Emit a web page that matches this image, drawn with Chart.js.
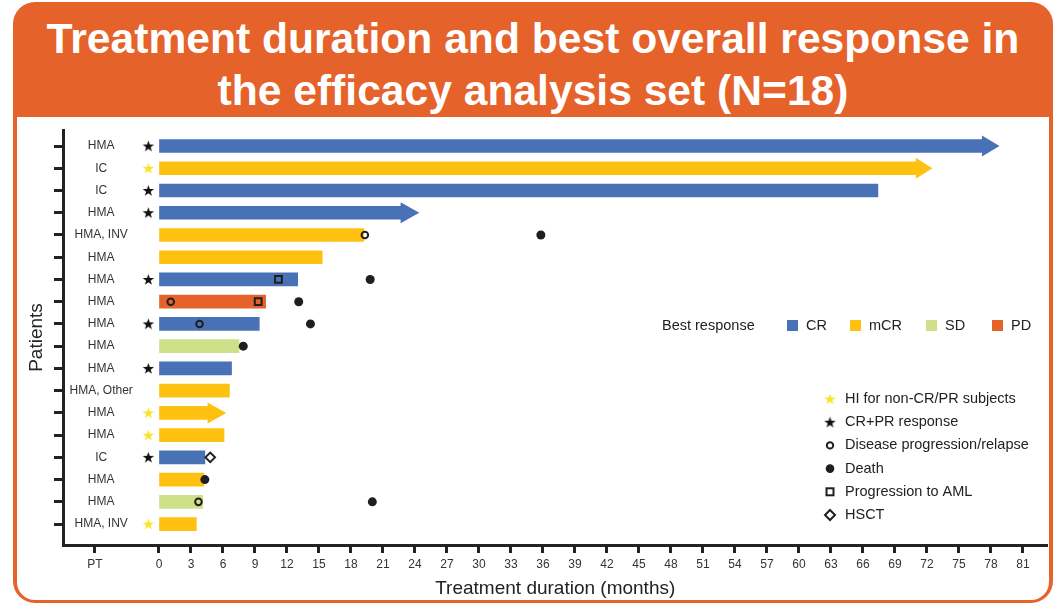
<!DOCTYPE html>
<html>
<head>
<meta charset="utf-8">
<script src="https://cdn.jsdelivr.net/npm/chart.js@4/dist/chart.umd.min.js"></script>
<style>
  html, body { margin: 0; padding: 0; background: #fff; }
  body { width: 1058px; height: 605px; position: relative; overflow: hidden;
         font-family: "Liberation Sans", Arial, sans-serif; }
  #frame { position: absolute; left: 13px; top: 2px; width: 1040px; height: 601px;
           background: #E5622A; border-radius: 22px; }
  #panel { position: absolute; left: 17px; top: 117px; width: 1032px; height: 483px;
           background: #fff; border-radius: 0 0 18px 18px; }
  #title { position: absolute; left: 13px; top: 12px; width: 1040px; text-align: center;
           color: #fff; font-weight: bold; font-size: 42.6px; line-height: 52px; }
  #chart { position: absolute; left: 0; top: 0; }
</style>
</head>
<body>
<div id="frame"></div>
<div id="panel"></div>
<div id="title">Treatment duration and best overall response in<br>the efficacy analysis set (N=18)</div>
<canvas id="chart" width="1058" height="605"></canvas>
<script>
// ---- data: one entry per patient, top row first ----
const patients = ['HMA', 'IC', 'IC', 'HMA', 'HMA, INV', 'HMA', 'HMA', 'HMA', 'HMA',
                  'HMA', 'HMA', 'HMA, Other', 'HMA', 'HMA', 'IC', 'HMA', 'HMA', 'HMA, INV'];
const bestResponse = ['CR', 'mCR', 'CR', 'CR', 'mCR', 'mCR', 'CR', 'PD', 'CR',
                      'SD', 'CR', 'mCR', 'mCR', 'mCR', 'CR', 'mCR', 'SD', 'mCR'];
// treatment duration in months (end of the bar body)
const durationMonths = [77.2, 71.0, 67.4, 22.7, 19.2, 15.3, 13.0, 10.0, 9.4,
                        7.5, 6.8, 6.6, 4.6, 6.1, 4.3, 4.2, 4.1, 3.5];
// patients still on treatment: month reached by the arrow tip
const ongoingArrowTip = [78.8, 72.5, null, 24.4, null, null, null, null, null,
                         null, null, null, 6.3, null, null, null, null, null];

// response markers shown in the "PT" column
const responseMarkerMonth = -1;
const crPrRows = [0, 2, 3, 6, 8, 10, 14];
const hiRows = [1, 12, 13, 17];

// events along the timeline
const progressionRows = [4, 7, 8, 16];
const progressionMonths = [19.3, 1.1, 3.8, 3.7];
const deathRows = [4, 6, 7, 8, 9, 15, 16];
const deathMonths = [35.8, 19.8, 13.1, 14.2, 7.9, 4.3, 20.0];
const amlRows = [6, 7];
const amlMonths = [11.2, 9.3];
const hsctRows = [14];
const hsctMonths = [4.8];

// x axis ticks
const ptMonth = -6;
const xTickValues = [-6, 0, 3, 6, 9, 12, 15, 18, 21, 24, 27, 30, 33, 36, 39, 42, 45,
                     48, 51, 54, 57, 60, 63, 66, 69, 72, 75, 78, 81];

const responseColors = { CR: '#4871B6', mCR: '#FFC10F', SD: '#CFE08A', PD: '#E5622A' };
const responseOrder = ['CR', 'mCR', 'SD', 'PD'];
const INK = '#1f1f1f';
const FONT = '"Liberation Sans", Arial, sans-serif';

// filled five-point star used as a point style
function starImage(color) {
  const c = document.createElement('canvas');
  c.width = 13; c.height = 13;
  const g = c.getContext('2d');
  g.fillStyle = color;
  g.beginPath();
  for (let k = 0; k < 10; k++) {
    const r = k % 2 ? 2.4 : 6;
    const a = -Math.PI / 2 + k * Math.PI / 5;
    g.lineTo(6.5 + r * Math.cos(a), 6.9 + r * Math.sin(a));
  }
  g.closePath();
  g.fill();
  return c;
}
const starBlack = starImage('#111');
const starYellow = starImage('#F8E42A');

const pts = (rows, months) => rows.map((r, i) => ({ x: months[i], y: r }));

function drawMarker(ctx, kind, x, y) {
  ctx.save();
  ctx.strokeStyle = INK; ctx.fillStyle = INK; ctx.lineWidth = 2;
  if (kind === 'hi') ctx.drawImage(starYellow, x - 6.5, y - 6.5);
  else if (kind === 'crpr') ctx.drawImage(starBlack, x - 6.5, y - 6.5);
  else if (kind === 'prog') { ctx.beginPath(); ctx.arc(x, y, 3.2, 0, Math.PI * 2); ctx.stroke(); }
  else if (kind === 'death') { ctx.beginPath(); ctx.arc(x, y, 4.3, 0, Math.PI * 2); ctx.fill(); }
  else if (kind === 'aml') { ctx.strokeRect(x - 3.5, y - 3.5, 7, 7); }
  else if (kind === 'hsct') {
    ctx.beginPath(); ctx.moveTo(x, y - 5); ctx.lineTo(x + 5, y); ctx.lineTo(x, y + 5);
    ctx.lineTo(x - 5, y); ctx.closePath(); ctx.stroke();
  }
  ctx.restore();
}

const markerLegend = [
  ['hi', 'HI for non-CR/PR subjects'],
  ['crpr', 'CR+PR response'],
  ['prog', 'Disease progression/relapse'],
  ['death', 'Death'],
  ['aml', 'Progression to AML'],
  ['hsct', 'HSCT']
];

const overlay = {
  id: 'overlay',
  afterDatasetDraw(chart, args) {
    if (args.index !== 0) return;
    const ctx = chart.ctx, xs = chart.scales.x;
    args.meta.data.forEach((bar, i) => {
      const tip = ongoingArrowTip[i];
      if (tip == null) return;
      const tx = xs.getPixelForValue(tip);
      const half = 10.5;
      ctx.save();
      ctx.fillStyle = responseColors[bestResponse[i]];
      ctx.beginPath();
      ctx.moveTo(bar.x - 0.5, bar.y - half);
      ctx.lineTo(tx, bar.y);
      ctx.lineTo(bar.x - 0.5, bar.y + half);
      ctx.closePath();
      ctx.fill();
      ctx.restore();
    });
  },
  afterDraw(chart) {
    const ctx = chart.ctx;
    ctx.save();
    ctx.font = '14.5px ' + FONT;
    ctx.fillStyle = '#222';
    ctx.textBaseline = 'middle';
    ctx.textAlign = 'left';
    // best response key
    const ky = 326;
    ctx.fillText('Best response', 662, ky);
    const boxX = [787, 850, 926, 992];
    responseOrder.forEach((k, i) => {
      ctx.fillStyle = responseColors[k];
      ctx.fillRect(boxX[i], ky - 6, 11, 11);
      ctx.fillStyle = '#222';
      ctx.fillText(k, boxX[i] + 19, ky);
    });
    // marker key
    markerLegend.forEach(([kind, text], i) => {
      const y = 399 + i * 23.2;
      drawMarker(ctx, kind, 830, y);
      ctx.fillStyle = '#222';
      ctx.fillText(text, 845, y);
    });
    ctx.restore();
  }
};

new Chart(document.getElementById('chart'), {
  type: 'bar',
  data: {
    datasets: [
      {
        type: 'bar',
        indexAxis: 'y',
        order: 2,
        data: durationMonths.map((d, i) => ({ x: [0, d], y: i })),
        backgroundColor: bestResponse.map(r => responseColors[r]),
        borderWidth: 0,
        barThickness: 13
      },
      {
        type: 'scatter', order: 1,
        data: crPrRows.map(r => ({ x: responseMarkerMonth, y: r })),
        pointStyle: starBlack, pointRadius: 6
      },
      {
        type: 'scatter', order: 1,
        data: hiRows.map(r => ({ x: responseMarkerMonth, y: r })),
        pointStyle: starYellow, pointRadius: 6
      },
      {
        type: 'scatter', order: 1,
        data: pts(progressionRows, progressionMonths),
        pointStyle: 'circle', pointRadius: 3.3, pointBorderWidth: 2,
        pointBorderColor: INK, pointBackgroundColor: 'rgba(0,0,0,0)'
      },
      {
        type: 'scatter', order: 1,
        data: pts(amlRows, amlMonths),
        pointStyle: 'rect', pointRadius: 4.8, pointBorderWidth: 2,
        pointBorderColor: INK, pointBackgroundColor: 'rgba(0,0,0,0)'
      },
      {
        type: 'scatter', order: 1,
        data: pts(hsctRows, hsctMonths),
        pointStyle: 'rectRot', pointRadius: 4.8, pointBorderWidth: 2,
        pointBorderColor: INK, pointBackgroundColor: 'rgba(0,0,0,0)'
      },
      {
        type: 'scatter', order: 1,
        data: pts(deathRows, deathMonths),
        pointStyle: 'circle', pointRadius: 4.5, pointBorderWidth: 0,
        pointBackgroundColor: INK
      }
    ]
  },
  options: {
    responsive: false,
    animation: false,
    events: [],
    layout: { padding: { top: 130, right: 10.5, bottom: 0, left: 0 } },
    plugins: { legend: { display: false }, tooltip: { enabled: false } },
    scales: {
      x: {
        type: 'linear', bounds: 'data', offset: false,
        min: -9, max: 83.3,
        afterBuildTicks: s => { s.ticks = xTickValues.map(v => ({ value: v })); },
        afterFit: s => { s.height = 60; },
        ticks: {
          autoSkip: false, maxRotation: 0, padding: 4,
          font: { family: FONT, size: 12 }, color: '#333',
          callback: v => (v === ptMonth ? 'PT' : String(v))
        },
        grid: { offset: false, drawOnChartArea: false, drawTicks: true,
                tickLength: 8, tickWidth: 3, tickColor: '#222' },
        border: { display: true, width: 3, color: '#222' },
        title: { display: true, text: 'Treatment duration (months)', color: '#222',
                 font: { family: FONT, size: 19 }, padding: { top: 0, bottom: 5 } }
      },
      y: {
        type: 'linear', bounds: 'data', offset: false, reverse: true,
        min: -0.72, max: 17.94,
        afterBuildTicks: s => { s.ticks = patients.map((_, i) => ({ value: i })); },
        afterFit: s => { s.width = 63; },
        ticks: {
          autoSkip: false, mirror: true, crossAlign: 'center', padding: 6.5,
          font: { family: FONT, size: 12 }, color: '#333',
          callback: v => patients[v]
        },
        grid: { offset: false, drawOnChartArea: false, drawTicks: true,
                tickLength: 9, tickWidth: 3, tickColor: '#222' },
        border: { display: true, width: 3, color: '#222' },
        title: { display: true, text: 'Patients', color: '#222',
                 font: { family: FONT, size: 19 }, padding: { top: 25, bottom: 0 } }
      }
    }
  },
  plugins: [overlay]
});
</script>
</body>
</html>
